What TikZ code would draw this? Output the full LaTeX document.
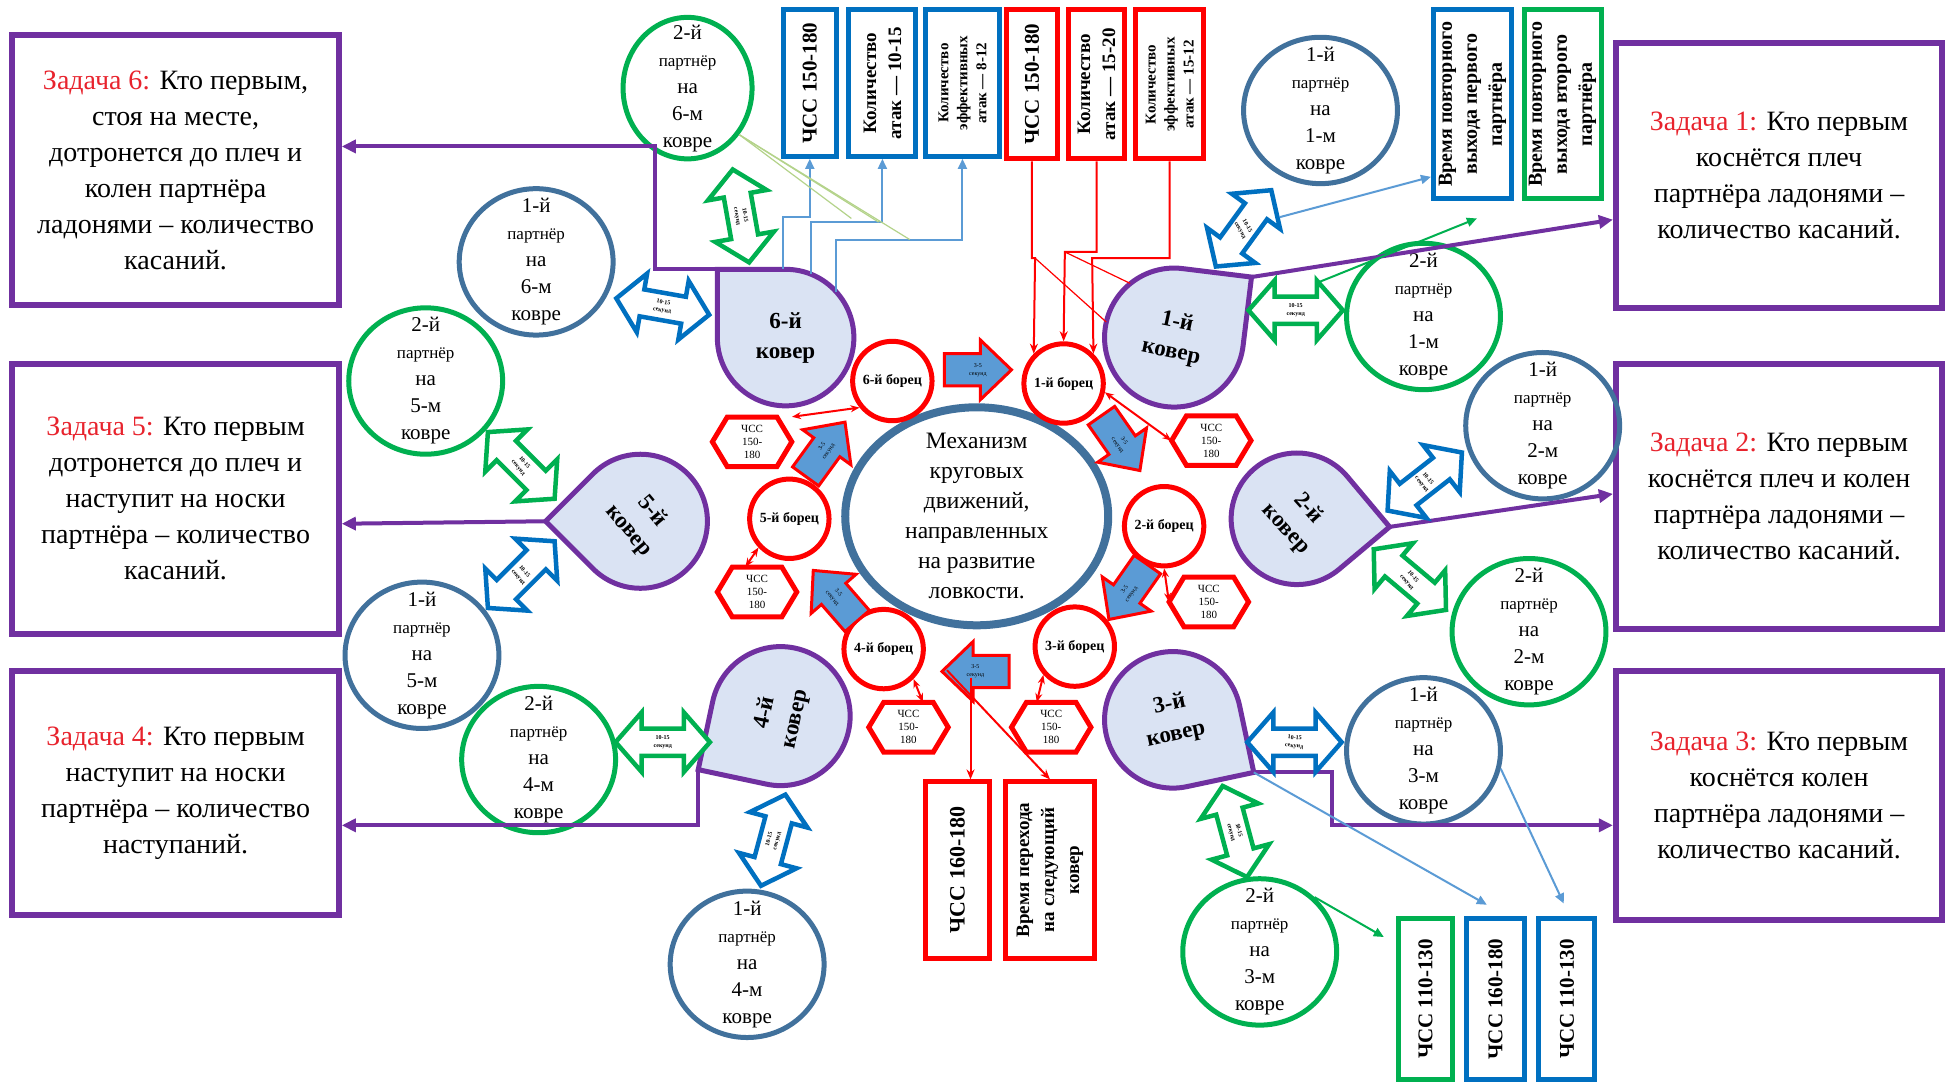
\documentclass[tikz,border=0pt]{standalone}
\usepackage{fontspec}
\setmainfont{Liberation Serif}
\usetikzlibrary{shapes.geometric,arrows.meta,calc}
\definecolor{purp}{HTML}{7030A0}
\definecolor{carpfill}{HTML}{DAE3F3}
\definecolor{steel}{HTML}{41719C}
\definecolor{grn}{HTML}{00B050}
\definecolor{blu}{HTML}{0070C0}
\definecolor{rd}{HTML}{FF0000}
\definecolor{lblue}{HTML}{5B9BD5}
\definecolor{ygreen}{HTML}{B4D38A}
\definecolor{taskred}{HTML}{E8232D}
\newcommand\fs[2]{\fontsize{#1}{#2}\selectfont}
\newcommand\ptx[2]{#1-й\\{\fs{17}{27}партнёр}\\на\\#2-м\\ковре}
\newcommand\zd[1]{{\color{taskred}Задача #1:}}
\newcommand\carpet[7]{%
  \draw[carpst] ($(#2,#3)+({#5}:{#4*1.41421})$) -- ($(#2,#3)+({#5+45}:{#4})$)
     arc[start angle={#5+45}, end angle={#5+315}, radius={#4}] -- cycle;
  \coordinate (#1tip) at ($(#2,#3)+({#5}:{#4*1.41421})$);
  \node[circle, inner sep=0pt, minimum size={2*#4*1.24107pt}] (#1) at (#2,#3) {};
  \node[carptxt, rotate=#6] (#1t) at (#2,#3) {#7-й\\ковер};
}
\newcommand\dbl[6]{%
  \begin{scope}[shift={(#2,#3)}, rotate={-(#4)}]
    \draw[dblst, draw=#5] (-38,0) -- (-17,-24) -- (-17,-11) -- (17,-11) -- (17,-24) -- (38,0) -- (17,24) -- (17,11) -- (-17,11) -- (-17,24) -- cycle;
  \end{scope}
  \node[dbltxt, rotate=#6] (#1) at (#2,#3) {10-15\\секунд};
}
\newcommand\fwdarr[5]{%
  \begin{scope}[shift={(#2,#3)}, rotate={-(#4)}]
    \draw[blkst] (-27,-13) -- (2,-13) -- (2,-24) -- (27,0) -- (2,24) -- (2,13) -- (-27,13) -- cycle;
  \end{scope}
  \node[fwdtxt, rotate=#5] (#1) at (#2,#3) {3-5\\секунд};
}
\newcommand\hexa[3]{%
  \draw[hexst] ($(#2,#3)+(-32,0)$) -- ++(12,-20) -- ++(40,0) -- ++(12,20) -- ++(-12,20) -- ++(-40,0) -- cycle;
  \node[hextxt] (#1) at (#2,#3) {ЧСС\\150-\\180};
}
\tikzset{
 taskbox/.style={draw=purp, line width=6pt, align=center, font=\fs{28}{36}, inner sep=0pt, minimum width=326.4pt},
 vbox/.style={rotate=90, line width=5pt, align=center, inner sep=0pt, font=\bfseries\fs{21}{26}},
 partA/.style={ellipse, draw=steel, line width=5pt, minimum width=153.9pt, minimum height=146.4pt, inner sep=0pt},
 partB/.style={partA, draw=grn},
 ptext/.style={align=center, font=\fs{21}{27}},
 fighter/.style={circle, draw=rd, line width=5pt, fill=white, minimum size=79.4pt, inner sep=0pt, font=\bfseries\fs{14}{16}},
 hexst/.style={draw=rd, line width=5pt, fill=white},
 hextxt/.style={minimum width=79.4pt, minimum height=49.6pt, inner sep=0pt, align=center, font=\fs{11}{13}},
 carpst/.style={draw=purp, line width=5pt, fill=carpfill},
 carptxt/.style={align=center, font=\bfseries\fs{23}{30}},
 dblst/.style={fill=white, line width=4.5pt},
 dbltxt/.style={align=center, font=\bfseries\fs{6}{8}},
 blkst/.style={fill=lblue, draw=rd, line width=3pt},
 fwdtxt/.style={align=center, font=\fs{6}{8}},
 purpline/.style={draw=purp, line width=4pt, -{Triangle[length=14pt,width=13pt]}},
 bluconn/.style={draw=lblue, line width=2pt, -{Triangle[length=10pt,width=9pt]}},
 grnconn/.style={draw=grn, line width=2pt, -{Triangle[length=10pt,width=9pt]}},
 redconn/.style={draw=rd, line width=2pt, -{Stealth[length=10pt,width=8pt]}},
 redbi/.style={draw=rd, line width=2pt, {Stealth[length=9pt,width=7pt]}-{Stealth[length=9pt,width=7pt]}},
 thinyg/.style={draw=ygreen, line width=1.2pt},
 thinred/.style={draw=rd, line width=1.2pt}
}
\begin{document}
\begin{tikzpicture}[x=1.24107pt, y=-1.24107pt]
\fill[white] (0,0) rectangle (1568,873);
\useasboundingbox (0,0) rectangle (1568,873);

% task boxes
\node[taskbox, minimum height=270.5pt] (t6) at (141.5,137) {\zd{6} Кто первым,\\стоя на месте,\\дотронется до плеч и\\колен партнёра\\ладонями – количество\\касаний.};
\node[taskbox, minimum height=270.5pt] (t5) at (141.5,402) {\zd{5} Кто первым\\дотронется до плеч и\\наступит на носки\\партнёра – количество\\касаний.};
\node[taskbox, minimum height=243.2pt] (t4) at (141.5,639) {\zd{4} Кто первым\\наступит на носки\\партнёра – количество\\наступаний.};
\node[taskbox, minimum height=264.3pt] (t1) at (1433.5,141.5) {\zd{1} Кто первым\\коснётся плеч\\партнёра ладонями –\\количество касаний.};
\node[taskbox, minimum height=265.6pt] (t2) at (1433.5,400) {\zd{2} Кто первым\\коснётся плеч и колен\\партнёра ладонями –\\количество касаний.};
\node[taskbox, minimum height=248.2pt] (t3) at (1433.5,641) {\zd{3} Кто первым\\коснётся колен\\партнёра ладонями –\\количество касаний.};

% vertical boxes
\node[vbox, draw=blu, minimum width=146.4pt, minimum height=53.4pt] (b1) at (652.5,67) {ЧСС 150-180};
\node[vbox, draw=blu, minimum width=146.4pt, minimum height=67pt, font=\bfseries\fs{19}{25}] (b2) at (711,67) {Количество\\атак — 10-15};
\node[vbox, draw=blu, minimum width=146.4pt, minimum height=73.2pt, font=\bfseries\fs{15}{19}] (b3) at (775.5,67) {Количество\\эффективных\\атак — 8-12};
\node[vbox, draw=rd, minimum width=149pt, minimum height=50.9pt] (r1) at (831.5,68) {ЧСС 150-180};
\node[vbox, draw=rd, minimum width=149pt, minimum height=55.8pt, font=\bfseries\fs{19}{25}] (r2) at (883.5,68) {Количество\\атак — 15-20};
\node[vbox, draw=rd, minimum width=149pt, minimum height=68.3pt, font=\bfseries\fs{15}{19}] (r3) at (942.5,68) {Количество\\эффективных\\атак — 15-12};
\node[vbox, draw=blu, minimum width=188.6pt, minimum height=78.2pt, font=\bfseries\fs{20}{25}] (tb1) at (1186.5,84) {Время повторного\\выхода первого\\партнёра};
\node[vbox, draw=grn, minimum width=188.6pt, minimum height=77pt, font=\bfseries\fs{20}{25}] (tb2) at (1259,84) {Время повторного\\выхода второго\\партнёра};
\node[vbox, draw=rd, minimum width=176.2pt, minimum height=63.3pt, font=\bfseries\fs{22}{26}] (br1) at (771.5,701) {ЧСС 160-180};
\node[vbox, draw=rd, minimum width=176.2pt, minimum height=89.4pt, font=\bfseries\fs{19}{25}] (br2) at (846,701) {Время перехода\\на следующий\\ковер};
\node[vbox, draw=grn, minimum width=161.3pt, minimum height=53.4pt] (bg) at (1148.5,805) {ЧСС 110-130};
\node[vbox, draw=blu, minimum width=161.3pt, minimum height=57.1pt] (bb1) at (1205,805) {ЧСС 160-180};
\node[vbox, draw=blu, minimum width=161.3pt, minimum height=55.8pt] (bb2) at (1262.5,805) {ЧСС 110-130};

% carpets
\carpet{c1}{946}{272}{56}{322}{-12}{1}
\carpet{c2}{1045}{418}{53}{5}{-48}{2}
\carpet{c3}{945}{580}{55}{33}{12}{3}
\carpet{c4}{629}{577}{56}{147}{78}{4}
\carpet{c5}{516}{420}{54}{180}{-50}{5}
\carpet{c6}{633}{272}{55}{225}{0}{6}

% partners
\node[partA] (p11) at (1064,89) {};  \node[ptext] (p11t) at (p11) {\ptx{1}{1}};
\node[partB] (p12) at (1147,255) {}; \node[ptext] (p12t) at (p12) {\ptx{2}{1}};
\node[partA] (p21) at (1243,343) {}; \node[ptext] (p21t) at (p21) {\ptx{1}{2}};
\node[partB] (p22) at (1232,509) {}; \node[ptext] (p22t) at (p22) {\ptx{2}{2}};
\node[partA] (p31) at (1147,605) {}; \node[ptext] (p31t) at (p31) {\ptx{1}{3}};
\node[partB] (p32) at (1015,767) {}; \node[ptext] (p32t) at (p32) {\ptx{2}{3}};
\node[partA] (p41) at (602,777) {};  \node[ptext] (p41t) at (p41) {\ptx{1}{4}};
\node[partB] (p42) at (434,612) {};  \node[ptext] (p42t) at (p42) {\ptx{2}{4}};
\node[partA] (p51) at (340,528) {};  \node[ptext] (p51t) at (p51) {\ptx{1}{5}};
\node[partB] (p52) at (343,307) {};  \node[ptext] (p52t) at (p52) {\ptx{2}{5}};
\node[partA] (p61) at (432,211) {};  \node[ptext] (p61t) at (p61) {\ptx{1}{6}};
\node[partB, minimum width=129pt, minimum height=141.5pt] (p62) at (554,71) {}; \node[ptext] (p62t) at (p62) {\ptx{2}{6}};

% centre
\node[ellipse, draw=steel, line width=8pt, minimum width=263pt, minimum height=218pt, inner sep=0pt] (mech) at (787,416) {};
\node[align=center, font=\fs{23.5}{30}] (mecht) at (mech) {Механизм\\круговых\\движений,\\направленных\\на развитие\\ловкости.};

% hexagons and fighters
\hexa{h1}{976}{355}
\hexa{h2}{974}{485}
\hexa{h3}{847}{586}
\hexa{h4}{732}{586}
\hexa{h5}{610}{477}
\hexa{h6}{606}{356}
\node[fighter] (f1) at (857,309) {1-й борец};
\node[fighter] (f2) at (938,424) {2-й борец};
\node[fighter] (f3) at (866,521) {3-й борец};
\node[fighter] (f4) at (712,523) {4-й борец};
\node[fighter] (f5) at (636,418) {5-й борец};
\node[fighter] (f6) at (719,307) {6-й борец};

% purple connectors
\draw[purpline] (c6tip) -| (528,118) -- (t6.east |- 0,118);
\draw[purpline] (c5tip) -- (t5.east |- 0,422);
\draw[purpline] (c4tip) |- (t4.east |- 0,665);
\draw[purpline] (c1tip) -- (t1.west |- 0,177);
\draw[purpline] (c2tip) -- (t2.west |- 0,398);
\draw[purpline] (c3tip) -| (1073,665) -- (t3.west |- 0,665);

% blue connectors from carpet 6
\draw[bluconn] (c6.92) -- ++(0,-42) -| (b1.west);
\draw[bluconn] (c6.68) -- ++(0,-42) -| (b2.west);
\draw[bluconn] (c6.42) -- ++(0,-42) -| (b3.west);
\coordinate (yg1) at (686,176);
\coordinate (yg2) at (708,179);
\coordinate (yg3) at (733,193);
\draw[thinyg] (p62.-42) -- (yg1);
\draw[thinyg] (p62.-42) -- (yg2);
\draw[thinyg] (p62.-42) -- (yg3);

% red connectors to fighter 1
\coordinate (rj1) at (834,208);
\coordinate (rj2) at (858,203);
\coordinate (rj3) at (880,208);
\draw[redconn] (r1.west) |- (rj1) -- (f1.135);
\draw[redconn] (r2.west) |- (rj2) -- (f1.north);
\draw[redconn] (r3.west) |- (rj3) -- (f1.45);
\draw[thinred] (rj1) -- (c1.167);
\draw[thinred] (rj2) -- (c1.129);

% fighter - hexagon
\draw[redbi] (f1.-12) -- (h1.west);
\draw[redbi] (f2.south) -- (h2.west);
\draw[redbi] (f3.222) -- (h3.120);
\draw[redbi] (f4.-45) -- (h4.60);
\draw[redbi] (f5.223) -- (h5.115);
\draw[redbi] (f6.219) -- (h6.north east);

% double arrows
\dbl{d1}{597}{174}{80}{grn}{-80}
\dbl{d2}{534}{247}{10}{blu}{-10}
\dbl{d3}{420}{375}{45}{grn}{-50}
\dbl{d4}{420}{463}{-45}{blu}{-50}
\dbl{d5}{534}{598}{0}{grn}{0}
\dbl{d6}{623}{677}{105}{blu}{75}
\dbl{d7}{1043}{598}{0}{blu}{-5}
\dbl{d8}{995}{670}{75}{grn}{-75}
\dbl{d9}{1044}{250}{0}{grn}{0}
\dbl{d10}{1002}{184}{-54}{blu}{-60}
\dbl{d11}{1148}{388}{-38}{blu}{-50}
\dbl{d12}{1136}{467}{40}{grn}{-50}

% forward arrows
\fwdarr{a61}{788}{298}{0}{0}
\fwdarr{a12}{903}{357}{55}{-55}
\fwdarr{a23}{909}{477}{125}{55}
\fwdarr{a34}{786}{541}{180}{0}
\fwdarr{a45}{673}{480}{229}{-49}
\fwdarr{a56}{665}{362}{306}{54}

% red arrows to bottom boxes
\coordinate (a34s) at (782,546);
\coordinate (a34t) at (763,540);
\draw[redconn] (a34s) -- (br1.east -| a34s);
\draw[redconn] (a34t) -- (br2.east);

% thin arrows right
\coordinate (d10e) at (1031,175);
\draw[bluconn] (d10e) -- ($(tb1.north west)!0.25!(tb1.north)$);
\coordinate (d9e) at (1061,228);
\coordinate (g1end) at (1190,176);
\draw[grnconn] (d9e) -- (g1end);
\coordinate (bb1in) at (1198,729);
\coordinate (bb2in) at (1260,728);
\coordinate (bgin) at (1115,755);
\draw[bluconn] (c3tip) -- (bb1in);
\draw[bluconn] (p31.-13) -- (bb2in);
\draw[grnconn] (p32.45) -- (bgin);
\end{tikzpicture}
\end{document}
